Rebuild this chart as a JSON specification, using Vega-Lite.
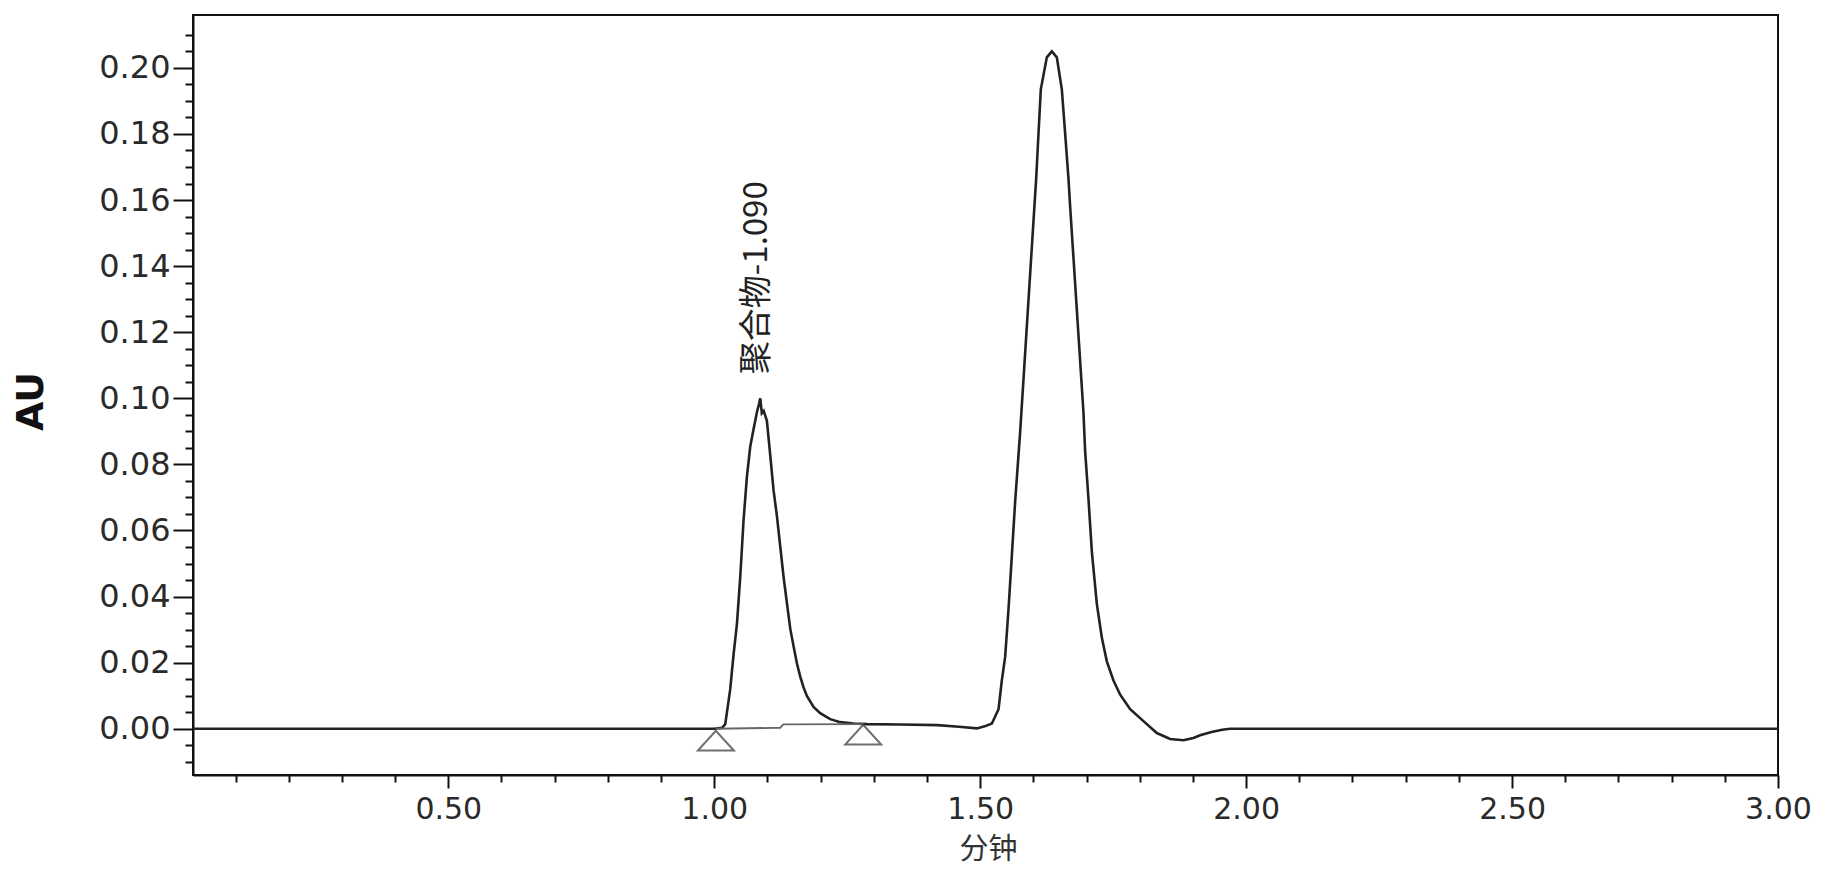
{
  "$schema": "https://vega.github.io/schema/vega-lite/v6.json",
  "width": 1585,
  "height": 760,
  "autosize": {"type": "none"},
  "padding": {"left": 193, "top": 15, "right": 55, "bottom": 107},
  "background": "white",
  "config": {
    "view": {"stroke": "#111", "strokeWidth": 2},
    "axis": {"grid": false, "domainColor": "#111", "domainWidth": 2, "tickColor": "#111", "tickWidth": 2, "labelFont": "DejaVu Sans", "labelColor": "#2a2a2a", "labelOverlap": false, "labelFlush": false}
  },
  "datasets": {
    "signal": [
      {"t": 0.02, "au": 0}, {"t": 1.0, "au": 0}, {"t": 1.015, "au": 0.0003}, {"t": 1.0207, "au": 0.0014},
      {"t": 1.03, "au": 0.0119}, {"t": 1.0363, "au": 0.0224}, {"t": 1.0426, "au": 0.0316}, {"t": 1.0489, "au": 0.046},
      {"t": 1.0551, "au": 0.0631}, {"t": 1.0614, "au": 0.0762}, {"t": 1.0677, "au": 0.0854}, {"t": 1.0739, "au": 0.0906},
      {"t": 1.0802, "au": 0.0958}, {"t": 1.0845, "au": 0.0985}, {"t": 1.0865, "au": 0.1}, {"t": 1.0895, "au": 0.0955},
      {"t": 1.093, "au": 0.0962}, {"t": 1.099, "au": 0.0932}, {"t": 1.1053, "au": 0.0827}, {"t": 1.1115, "au": 0.0722},
      {"t": 1.1178, "au": 0.0644}, {"t": 1.1241, "au": 0.0552}, {"t": 1.1303, "au": 0.046}, {"t": 1.1366, "au": 0.0381},
      {"t": 1.1429, "au": 0.0303}, {"t": 1.1491, "au": 0.025}, {"t": 1.1554, "au": 0.0198}, {"t": 1.1617, "au": 0.0158},
      {"t": 1.1679, "au": 0.0125}, {"t": 1.1742, "au": 0.0099}, {"t": 1.1867, "au": 0.0066}, {"t": 1.1992, "au": 0.0047},
      {"t": 1.218, "au": 0.0029}, {"t": 1.2368, "au": 0.002}, {"t": 1.2619, "au": 0.0016}, {"t": 1.287, "au": 0.0014},
      {"t": 1.35, "au": 0.0013}, {"t": 1.42, "au": 0.0011}, {"t": 1.46, "au": 0.0006}, {"t": 1.494, "au": 0.0001},
      {"t": 1.51, "au": 0.0008}, {"t": 1.522, "au": 0.0016}, {"t": 1.5345, "au": 0.0059}, {"t": 1.5407, "au": 0.0146},
      {"t": 1.547, "au": 0.0218}, {"t": 1.5533, "au": 0.0363}, {"t": 1.5595, "au": 0.0523}, {"t": 1.5658, "au": 0.0689},
      {"t": 1.5752, "au": 0.0899}, {"t": 1.6002, "au": 0.1536}, {"t": 1.6053, "au": 0.1665}, {"t": 1.6096, "au": 0.18},
      {"t": 1.614, "au": 0.1935}, {"t": 1.6253, "au": 0.2032}, {"t": 1.6347, "au": 0.205}, {"t": 1.6441, "au": 0.2032},
      {"t": 1.6535, "au": 0.1935}, {"t": 1.6598, "au": 0.18}, {"t": 1.666, "au": 0.1665}, {"t": 1.6692, "au": 0.1579},
      {"t": 1.6942, "au": 0.0957}, {"t": 1.6973, "au": 0.0841}, {"t": 1.7036, "au": 0.0696}, {"t": 1.7099, "au": 0.0537},
      {"t": 1.7193, "au": 0.0378}, {"t": 1.7287, "au": 0.0276}, {"t": 1.7381, "au": 0.0204}, {"t": 1.7506, "au": 0.0146},
      {"t": 1.7632, "au": 0.0103}, {"t": 1.782, "au": 0.0059}, {"t": 1.807, "au": 0.0023}, {"t": 1.8321, "au": -0.0013},
      {"t": 1.8571, "au": -0.0031}, {"t": 1.8822, "au": -0.0035}, {"t": 1.9009, "au": -0.0028}, {"t": 1.9135, "au": -0.002},
      {"t": 1.935, "au": -0.001}, {"t": 1.955, "au": -0.0003}, {"t": 1.97, "au": 0}, {"t": 3.0, "au": 0}
    ],
    "baseline": [
      {"t": 1.003, "au": 0.0}, {"t": 1.124, "au": 0.0003}, {"t": 1.13, "au": 0.0013}, {"t": 1.282, "au": 0.0014}
    ],
    "markers": [
      {"t": 1.003, "au": -0.0036}, {"t": 1.28, "au": -0.0018}
    ],
    "label": [
      {"t": 1.081, "au": 0.1365, "text": "聚合物-1.090"}
    ]
  },
  "layer": [
    {
      "data": {"name": "signal"},
      "mark": {"type": "line", "color": "#222", "strokeWidth": 2.6, "interpolate": "linear"},
      "encoding": {
        "x": {"field": "t", "type": "quantitative", "scale": {"domain": [0.02, 3.0], "nice": false, "zero": false},
          "axis": {"orient": "bottom", "values": [0.5, 1.0, 1.5, 2.0, 2.5, 3.0], "format": ".2f", "tickSize": 13, "labelPadding": 6, "labelFontSize": 30, "title": "分钟", "titleFont": "Noto Sans CJK SC", "titleFontSize": 29, "titleFontWeight": "normal", "titleColor": "#333", "titleX": 795, "titleY": 74, "titleBaseline": "middle", "titleAlign": "center"}},
        "y": {"field": "au", "type": "quantitative", "scale": {"domain": [-0.014, 0.216], "nice": false, "zero": false},
          "axis": {"orient": "left", "values": [0, 0.02, 0.04, 0.06, 0.08, 0.1, 0.12, 0.14, 0.16, 0.18, 0.2], "format": ".2f", "tickSize": 20, "labelPadding": 3, "labelFontSize": 32, "title": "AU", "titleFont": "DejaVu Sans", "titleFontSize": 38, "titleFontWeight": "bold", "titleColor": "#111", "titleX": -162, "titleY": 386, "titleAngle": -90, "titleBaseline": "middle", "titleAlign": "center"}}
      }
    },
    {
      "data": {"name": "baseline"},
      "mark": {"type": "line", "color": "#666", "strokeWidth": 1.8},
      "encoding": {
        "x": {"field": "t", "type": "quantitative", "scale": {"domain": [0.02, 3.0], "nice": false, "zero": false},
          "axis": {"orient": "bottom", "values": [0.1, 0.2, 0.3, 0.4, 0.6, 0.7, 0.8, 0.9, 1.1, 1.2, 1.3, 1.4, 1.6, 1.7, 1.8, 1.9, 2.1, 2.2, 2.3, 2.4, 2.6, 2.7, 2.8, 2.9], "tickSize": 7, "labels": false, "title": null, "domain": false}},
        "y": {"field": "au", "type": "quantitative", "scale": {"domain": [-0.014, 0.216], "nice": false, "zero": false},
          "axis": {"orient": "left", "values": [-0.01, -0.005, 0.005, 0.01, 0.015, 0.025, 0.03, 0.035, 0.045, 0.05, 0.055, 0.065, 0.07, 0.075, 0.085, 0.09, 0.095, 0.105, 0.11, 0.115, 0.125, 0.13, 0.135, 0.145, 0.15, 0.155, 0.165, 0.17, 0.175, 0.185, 0.19, 0.195, 0.205, 0.21], "tickSize": 8, "labels": false, "title": null, "domain": false}}
      }
    },
    {
      "data": {"name": "markers"},
      "mark": {"type": "point", "shape": "M-1,0.55L0,-0.55L1,0.55Z", "size": 1300, "filled": false, "stroke": "#333", "strokeWidth": 2},
      "encoding": {
        "x": {"field": "t", "type": "quantitative", "scale": {"domain": [0.02, 3.0], "nice": false, "zero": false}, "axis": null},
        "y": {"field": "au", "type": "quantitative", "scale": {"domain": [-0.014, 0.216], "nice": false, "zero": false}, "axis": null}
      }
    },
    {
      "data": {"name": "label"},
      "mark": {"type": "text", "angle": 270, "align": "center", "baseline": "middle", "font": "Noto Sans CJK SC", "fontSize": 33, "color": "#222"},
      "encoding": {
        "x": {"field": "t", "type": "quantitative", "scale": {"domain": [0.02, 3.0], "nice": false, "zero": false}, "axis": null},
        "y": {"field": "au", "type": "quantitative", "scale": {"domain": [-0.014, 0.216], "nice": false, "zero": false}, "axis": null},
        "text": {"field": "text", "type": "nominal"}
      }
    }
  ],
  "resolve": {"axis": {"x": "independent", "y": "independent"}}
}
